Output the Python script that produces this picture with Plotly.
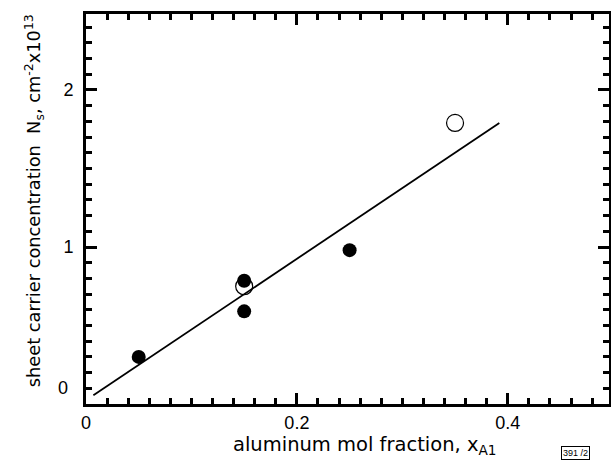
import plotly.graph_objects as go

# Data
filled_x = [0.05, 0.15, 0.15, 0.25]
filled_y = [0.30, 0.785, 0.59, 0.98]
open_x = [0.15, 0.35]
open_y = [0.75, 1.79]
fit_x = [0.007, 0.392]
fit_y = [0.055, 1.79]

x_labelled_ticks = [0, 0.2, 0.4]
x_labels = ["0", "0.2", "0.4"]
x_long_ticks = [0.1, 0.3]
y_labelled_ticks = [1, 2]
y_labels = ["1", "2"]
y_long_ticks = [0.5, 1.5]

X_RANGE = [0, 0.496]
Y_RANGE = [0, 2.484]

TICK_FONT = "Liberation Sans"
TITLE_FONT = "DejaVu Sans"

fig = go.Figure()
fig.add_trace(go.Scatter(x=fit_x, y=fit_y, mode="lines",
                         line=dict(color="black", width=1.8), showlegend=False))
fig.add_trace(go.Scatter(x=open_x, y=open_y, mode="markers",
                         marker=dict(symbol="circle-open", size=17, color="black",
                                     line=dict(width=1.2)), showlegend=False))
fig.add_trace(go.Scatter(x=filled_x, y=filled_y, mode="markers",
                         marker=dict(symbol="circle", size=14, color="black"),
                         showlegend=False))

common = dict(showline=True, linecolor="black", linewidth=3, mirror="allticks",
              ticks="inside", ticklen=11, tickwidth=3, tickcolor="black",
              showgrid=False, zeroline=False, automargin=False,
              tickfont=dict(family=TICK_FONT, size=18, color="black"))

fig.update_layout(
    template="none",
    width=611, height=466, plot_bgcolor="white", paper_bgcolor="white",
    margin=dict(l=86, r=2, t=14, b=62),
    showlegend=False,
    xaxis=dict(range=X_RANGE, tickmode="array", tickvals=x_labelled_ticks,
               ticktext=x_labels,
               minor=dict(ticks="inside", dtick=0.02, tick0=0, ticklen=6,
                          tickwidth=3, tickcolor="black"),
               **common),
    yaxis=dict(range=Y_RANGE, tickmode="array", tickvals=y_labelled_ticks,
               ticktext=y_labels, ticklabelstandoff=6,
               minor=dict(ticks="inside", dtick=0.1, tick0=0, ticklen=6,
                          tickwidth=3, tickcolor="black"),
               **common),
    xaxis2=dict(range=X_RANGE, overlaying="x", anchor="y", side="bottom",
                tickmode="array", tickvals=x_long_ticks, showticklabels=False,
                **common),
    yaxis2=dict(range=Y_RANGE, overlaying="y", anchor="x", side="left",
                tickmode="array", tickvals=y_long_ticks, showticklabels=False,
                **common),
)

fig.add_annotation(text="0", xref="paper", yref="y", x=0, y=0.1,
                   xanchor="right", yanchor="middle", xshift=-16, showarrow=False,
                   font=dict(family=TICK_FONT, size=18, color="black"))
fig.add_annotation(text="aluminum mol fraction, x<sub>A1</sub>",
                   xref="paper", yref="paper", x=0.533, y=0, yshift=-41,
                   xanchor="center", yanchor="middle", showarrow=False,
                   font=dict(family=TITLE_FONT, size=19.5, color="black"))
fig.add_annotation(text="sheet carrier concentration  N<sub>s</sub>, cm<sup>-2</sup>x10<sup>13</sup>",
                   xref="paper", yref="paper", x=0, xshift=-52, y=0.52,
                   xanchor="center", yanchor="middle", textangle=-90, showarrow=False,
                   font=dict(family=TITLE_FONT, size=17.8, color="black"))
fig.add_annotation(text="391 /2", xref="paper", yref="paper", x=0.935, y=-0.125,
                   xanchor="center", yanchor="middle", showarrow=False,
                   bordercolor="black", borderwidth=1, borderpad=1,
                   font=dict(family=TICK_FONT, size=9, color="black"))

fig.write_html("out.html", config={"displayModeBar": False},
               post_script="document.body.style.margin='0';"
                           "document.body.style.overflow='hidden';")
